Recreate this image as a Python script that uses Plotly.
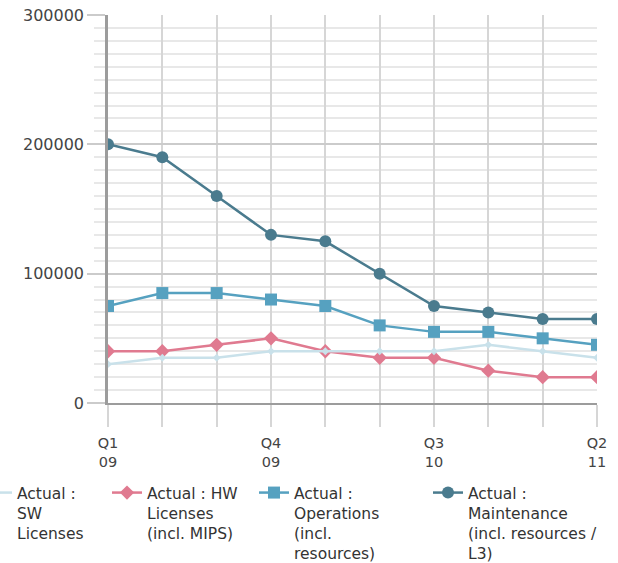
import plotly.graph_objects as go

# Quarterly actuals per cost category
quarters = ["Q1 09", "Q2 09", "Q3 09", "Q4 09", "Q1 10",
            "Q2 10", "Q3 10", "Q4 10", "Q1 11", "Q2 11"]
sw_licenses = [30000, 35000, 35000, 40000, 40000, 40000, 40000, 45000, 40000, 35000]
hw_licenses = [40000, 40000, 45000, 50000, 40000, 35000, 35000, 25000, 20000, 20000]
operations = [75000, 85000, 85000, 80000, 75000, 60000, 55000, 55000, 50000, 45000]
maintenance = [200000, 190000, 160000, 130000, 125000, 100000, 75000, 70000, 65000, 65000]

# only every third quarter gets a label, split over two lines
tick_text = [q.replace(" ", "<br>") if i % 3 == 0 else "" for i, q in enumerate(quarters)]

FONT = "DejaVu Sans"
W, H = 618, 563
L, R, T, B = 108, 21, 15, 160
PLOT_W = W - L - R

series = [
    # name, values, color, marker symbol, marker size, legend id, legend left px, rank
    ("Actual : HW<br>Licenses<br>(incl. MIPS)", hw_licenses, "#e07a90", "diamond", 11, "legend2", 107, 2),
    ("Actual :<br>Operations<br>(incl.<br>resources)", operations, "#56a1c0", "square", 12, "legend3", 254, 3),
    ("Actual :<br>Maintenance<br>(incl. resources /<br>L3)", maintenance, "#4a7b8e", "circle", 12, "legend4", 428, 4),
    ("Actual :<br>SW<br>Licenses", sw_licenses, "#c9e1ea", "diamond", 6, "legend", -23, 1),
]

fig = go.Figure()
legend_layout = {}
for name, vals, color, symbol, msize, leg, left, rank in series:
    fig.add_trace(go.Scatter(
        x=quarters, y=vals, name=name, mode="lines+markers",
        line=dict(color=color, width=2.5),
        marker=dict(symbol=symbol, size=msize, color=color),
        legend=leg, legendrank=rank, cliponaxis=True,
    ))
    legend_layout[leg] = dict(
        xref="paper", yref="container",
        x=(left - L) / PLOT_W, xanchor="left",
        y=1 - 476 / H, yanchor="top",
        valign="top", bgcolor="rgba(0,0,0,0)", borderwidth=0,
        font=dict(family=FONT, size=15.5, color="#333333"),
    )

fig.update_layout(
    width=W, height=H,
    margin=dict(l=L, r=R, t=T, b=B, autoexpand=False),
    paper_bgcolor="white", plot_bgcolor="white",
    showlegend=True,
    font=dict(family=FONT, size=15, color="#444444"),
    xaxis=dict(
        type="category", categoryorder="array", categoryarray=quarters,
        range=[0, len(quarters) - 1],
        tickvals=quarters, ticktext=tick_text, tickangle=0,
        showgrid=True, gridcolor="#d6d6d6", gridwidth=2,
        ticks="outside", ticklen=22, tickwidth=2, tickcolor="#d6d6d6",
        ticklabelstandoff=4,
        showline=True, linecolor="#9c9c9c", linewidth=2,
        tickfont=dict(family=FONT, size=14.5, color="#444444"),
        zeroline=False,
    ),
    yaxis=dict(
        range=[0, 300000], dtick=100000, tickformat="d",
        showgrid=True, gridcolor="#cbcbcb", gridwidth=2,
        ticks="outside", ticklen=18, tickwidth=2, tickcolor="#cbcbcb",
        showline=True, linecolor="#9c9c9c", linewidth=2.5,
        zeroline=False,
        tickfont=dict(family=FONT, size=16, color="#444444"),
        minor=dict(dtick=10000, showgrid=True, gridcolor="#e8e8e8", gridwidth=2,
                   ticks="outside", ticklen=11, tickwidth=2, tickcolor="#e8e8e8"),
    ),
    **legend_layout,
)

fig.write_html("out.html")
